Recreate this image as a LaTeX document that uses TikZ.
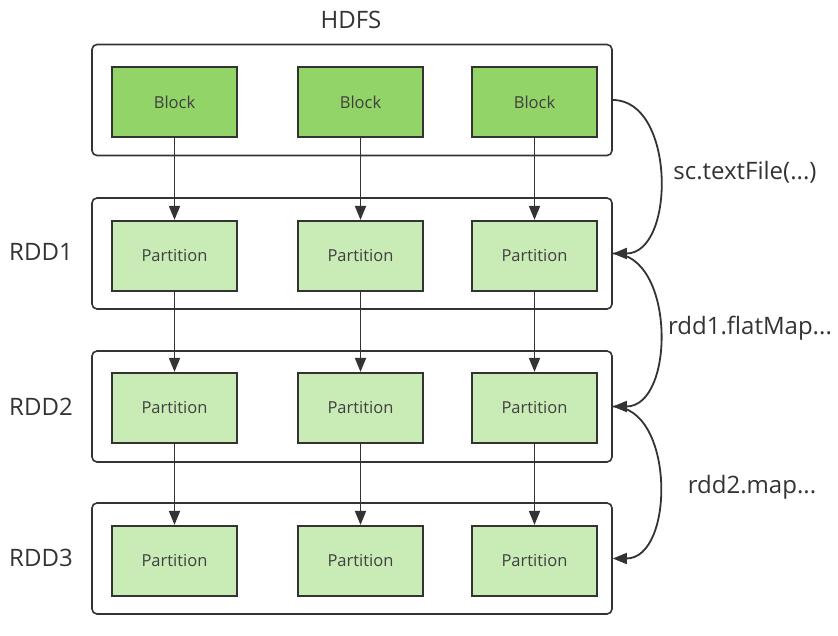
\documentclass[tikz,border=0pt]{standalone}
\usepackage{fontspec}
\setmainfont{Open Sans}
\usetikzlibrary{arrows.meta}
\definecolor{blockgreen}{RGB}{146,212,104}
\definecolor{partgreen}{RGB}{201,236,182}
\definecolor{edgegray}{RGB}{51,51,51}

\begin{document}
\begin{tikzpicture}[x=1pt, y=-1pt,
  layer/.style={draw=edgegray, line width=1.6pt, rounded corners=5pt, minimum width=520pt, minimum height=111pt},
  block/.style={draw=edgegray, fill=blockgreen, line width=2.2pt, minimum width=125pt, minimum height=70pt, text=black!75, font=\fontsize{16.5}{19}\selectfont},
  partition/.style={block, fill=partgreen},
  caption/.style={text=edgegray, font=\fontsize{24}{28}\selectfont},
  flow/.style={draw=edgegray, line width=1.8pt, -{Triangle[length=14pt, width=11pt]}},
  step flow/.style={flow, out=0, in=0, looseness=1.05}
]
\useasboundingbox (0,0) rectangle (838,635);

% layers
\node [layer] (hdfs) at (352,100) {};
\node [layer] (rdd1) at (352,253.5) {};
\node [layer] (rdd2) at (352,406.5) {};
\node [layer] (rdd3) at (352,558.5) {};

\node [caption] (hdfslabel) at (351,20) {HDFS};
\node [caption] (rdd1label) at (41,252) {RDD1};
\node [caption] (rdd2label) at (41,407) {RDD2};
\node [caption] (rdd3label) at (41,558) {RDD3};

% blocks
\node [block] (b1) at (174.5,102) {Block};
\node [block] (b2) at (360.5,102) {Block};
\node [block] (b3) at (534.5,102) {Block};

% partitions
\node [partition] (p11) at (174.5,256) {Partition};
\node [partition] (p12) at (360.5,256) {Partition};
\node [partition] (p13) at (534.5,256) {Partition};
\node [partition] (p21) at (174.5,408) {Partition};
\node [partition] (p22) at (360.5,408) {Partition};
\node [partition] (p23) at (534.5,408) {Partition};
\node [partition] (p31) at (174.5,561) {Partition};
\node [partition] (p32) at (360.5,561) {Partition};
\node [partition] (p33) at (534.5,561) {Partition};

\draw [flow] (b1) -- (p11);
\draw [flow] (b2) -- (p12);
\draw [flow] (b3) -- (p13);
\draw [flow] (p11) -- (p21);
\draw [flow] (p12) -- (p22);
\draw [flow] (p13) -- (p23);
\draw [flow] (p21) -- (p31);
\draw [flow] (p22) -- (p32);
\draw [flow] (p23) -- (p33);

% transformations
\draw [step flow] (hdfs.east) to (rdd1.east);
\draw [step flow] (rdd1.east) to (rdd2.east);
\draw [step flow] (rdd2.east) to (rdd3.east);

\node [caption] (textfile) at (745,172) {sc.textFile(...)};
\node [caption] (flatmap) at (750,328) {rdd1.flatMap...};
\node [caption] (map) at (752,487) {rdd2.map...};
\end{tikzpicture}
\end{document}
